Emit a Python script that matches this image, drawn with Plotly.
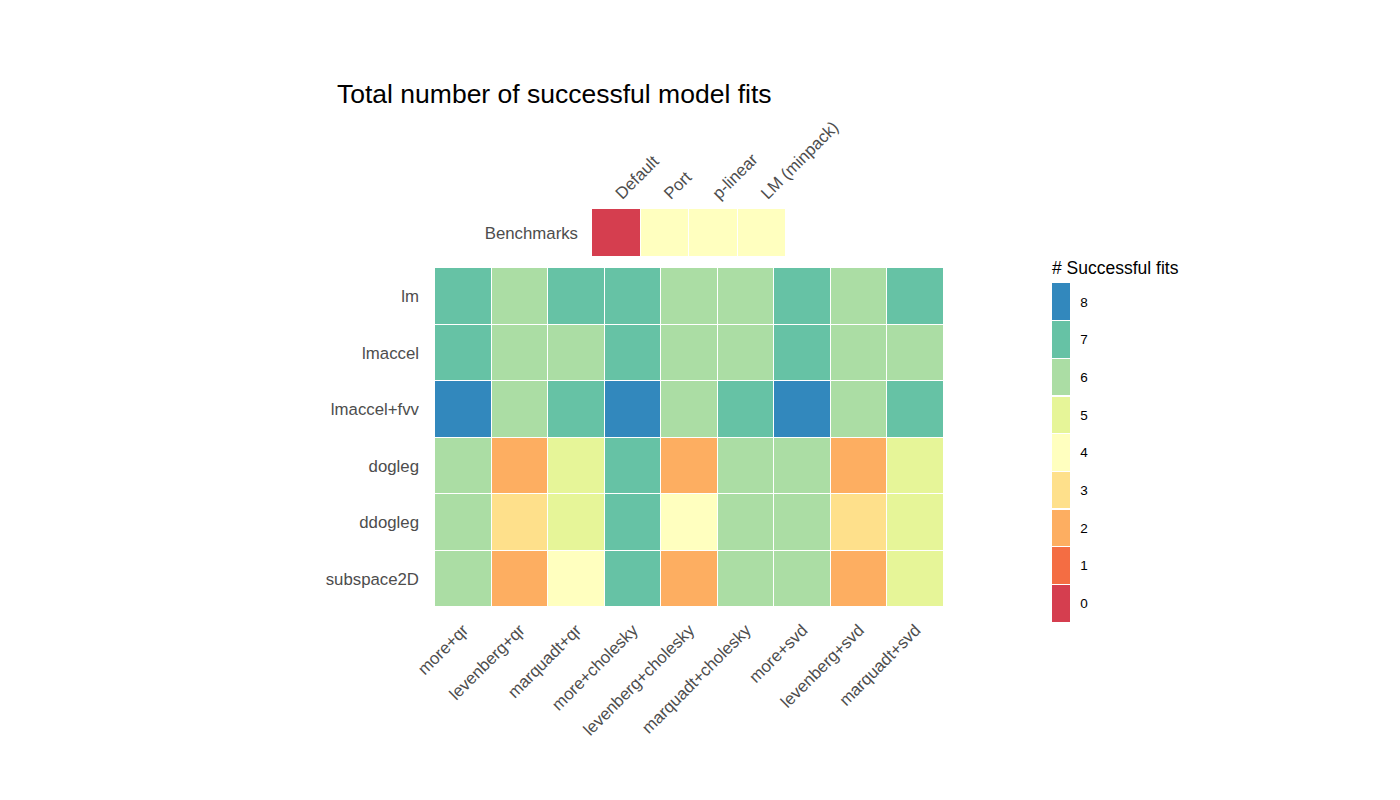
import plotly.graph_objects as go

# ---------------- data ----------------
methods = ["more+qr", "levenberg+qr", "marquadt+qr", "more+cholesky",
           "levenberg+cholesky", "marquadt+cholesky", "more+svd",
           "levenberg+svd", "marquadt+svd"]
algorithms = ["lm", "lmaccel", "lmaccel+fvv", "dogleg", "ddogleg", "subspace2D"]
fits = [
    [7, 6, 7, 7, 6, 6, 7, 6, 7],
    [7, 6, 6, 7, 6, 6, 7, 6, 6],
    [8, 6, 7, 8, 6, 7, 8, 6, 7],
    [6, 2, 5, 7, 2, 6, 6, 2, 5],
    [6, 3, 5, 7, 4, 6, 6, 3, 5],
    [6, 2, 4, 7, 2, 6, 6, 2, 5],
]
bench_names = ["Default", "Port", "p-linear", "LM (minpack)"]
bench_rows = ["Benchmarks"]
bench_fits = [[0, 4, 4, 4]]
levels = [0, 1, 2, 3, 4, 5, 6, 7, 8]
palette = ["#d53e4f", "#f46d43", "#fdae61", "#fee08b", "#ffffbf",
           "#e6f598", "#abdda4", "#66c2a5", "#3288bd"]

# discrete colour scale with thin white separators
n = len(palette)
eps = 0.0016
scale = []
for i, c in enumerate(palette):
    lo, hi = i / n, (i + 1) / n
    if i == 0:
        scale.append([0.0, c])
    else:
        scale.append([lo + eps, "white"])
        scale.append([lo + eps, c])
    if i == n - 1:
        scale.append([1.0, c])
    else:
        scale.append([hi - eps, c])
        scale.append([hi - eps, "white"])

W, H = 1400, 800
OFF = 8  # page body margin


def px(x):
    return (x - OFF) / W


def py(y):
    return 1 - (y - OFF) / H


FONT = "Liberation Sans, Arial, Helvetica, sans-serif"
GRAY = "#4d4d4d"

fig = go.Figure()
fig.add_trace(go.Heatmap(
    z=fits, x=methods, y=algorithms, coloraxis="coloraxis",
    xgap=1, ygap=1, xaxis="x", yaxis="y",
    hovertemplate="%{y} / %{x}: %{z}<extra></extra>"))
fig.add_trace(go.Heatmap(
    z=bench_fits, x=bench_names, y=bench_rows, coloraxis="coloraxis",
    xgap=1, ygap=1, xaxis="x2", yaxis="y2",
    hovertemplate="%{x}: %{z}<extra></extra>"))

axfont = dict(family=FONT, size=16.8, color=GRAY)
fig.update_layout(
    width=W, height=H,
    margin=dict(l=0, r=0, t=0, b=0, autoexpand=False),
    paper_bgcolor="white", plot_bgcolor="white",
    font=dict(family=FONT),
    title=dict(text="Total number of successful model fits",
               x=px(337), xanchor="left", xref="paper",
               y=py(94), yanchor="middle", yref="paper",
               font=dict(family=FONT, size=26.5, color="black")),
    xaxis=dict(domain=[px(435), px(944)], anchor="y", tickangle=-45,
               showgrid=False, zeroline=False, showline=False, ticks="",
               tickfont=axfont, ticklabelstandoff=9, automargin=False),
    yaxis=dict(domain=[py(607), py(268)], anchor="x",
               autorange="reversed", showgrid=False, zeroline=False,
               showline=False, ticks="", tickfont=axfont,
               ticklabelstandoff=15, automargin=False),
    xaxis2=dict(domain=[px(592), px(786)], anchor="y2", side="top",
                tickangle=-45, showgrid=False, zeroline=False,
                showline=False, ticks="", tickfont=axfont,
                ticklabelstandoff=2, automargin=False),
    yaxis2=dict(domain=[py(257), py(209)], anchor="x2",
                showgrid=False, zeroline=False, showline=False, ticks="",
                tickfont=axfont, ticklabelstandoff=13, automargin=False),
    coloraxis=dict(
        colorscale=scale, cmin=-0.5, cmax=8.5,
        colorbar=dict(
            title=dict(text="# Successful fits", side="top",
                       font=dict(family=FONT, size=17.5, color="black")),
            tickvals=levels, ticktext=[str(v) for v in levels],
            tickfont=dict(family=FONT, size=13.5, color="black"),
            ticks="outside", ticklen=8, tickcolor="white",
            thickness=18, lenmode="pixels", len=364,
            x=px(1052), xanchor="left", xref="paper",
            y=py(258), yanchor="top", yref="paper",
            xpad=0, ypad=0, outlinewidth=0)),
)

fig.write_html("out.html")
